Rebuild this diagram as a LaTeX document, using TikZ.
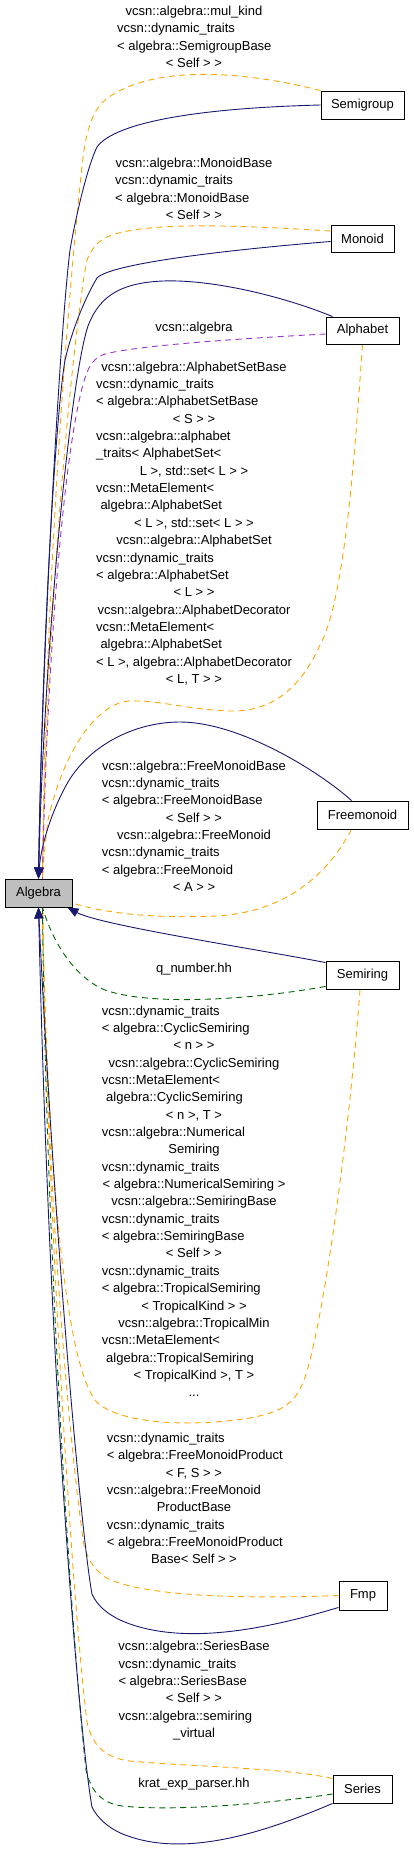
\documentclass[tikz,border=0pt]{standalone}
\usepackage{fontspec}
\setmainfont{Liberation Sans}
\usetikzlibrary{arrows.meta}
\definecolor{navyc}{HTML}{191970}
\definecolor{orangec}{HTML}{FFA500}
\definecolor{purplec}{HTML}{9A32CD}
\definecolor{greenc}{HTML}{006400}
\definecolor{grayfill}{HTML}{BFBFBF}
\newcounter{lc}
\newcommand\lf{\fontsize{13pt}{15pt}\selectfont}
\newcommand\blk[1]{\xdef\cury{#1}}
\newcommand\LabC[1]{\stepcounter{lc}\node[lbl] (t\arabic{lc}) at (194,\cury) {#1};\pgfmathsetmacro\tmpy{\cury+17.35}\xdef\cury{\tmpy}}
\newcommand\LabL[2]{\stepcounter{lc}\node[lbl,anchor=west] (t\arabic{lc}) at (#1,\cury) {#2};\pgfmathsetmacro\tmpy{\cury+17.35}\xdef\cury{\tmpy}}
\tikzset{
  lbl/.style={font=\lf, inner sep=0pt, text height=9.5pt, text depth=2.8pt},
  box/.style={draw=black, fill=white, font=\lf, inner sep=0pt, minimum height=28pt, line width=0.9pt},
  nv/.style={draw=navyc, line width=0.9pt, -{Triangle[length=11pt,width=9pt]}, fill=none},
  dsh/.style={line width=0.9pt, dash pattern=on 6pt off 4.5pt},
  og/.style={dsh, draw=orangec},
  pp/.style={dsh, draw=purplec},
  gr/.style={dsh, draw=greenc},
}
\begin{document}
\begin{tikzpicture}[x=1pt,y=-1pt]
\useasboundingbox (0,0) rectangle (413,1851);
% nodes (placed first so anchors exist; redrawn on top later)
\node[box, minimum width=83pt] (semigroup) at (362.5,105) {Semigroup};
\node[box, minimum width=63pt, minimum height=27pt] (monoid) at (362.5,238.5) {Monoid};
\node[box, minimum width=73pt, minimum height=27pt] (alphabet) at (362.5,330.5) {Alphabet};
\node[box, minimum width=91pt] (freemonoid) at (362.5,815) {Freemonoid};
\node[box, minimum width=73pt] (semiring) at (362.5,975) {Semiring};
\node[box, minimum width=48pt, minimum height=29pt] (fmp) at (363,1595.5) {Fmp};
\node[box, minimum width=59pt] (series) at (362.5,1789) {Series};
\node[box, fill=grayfill, minimum width=67pt] (algebra) at (38.5,893) {Algebra};

% orange dashed
\draw[og] (semigroup.north west) .. controls (240,70) and (150,65) .. (105,100) .. controls (95,108) and (88,125) .. (84,150) .. controls (75,220) and (45,550) .. ([xshift=4pt]algebra.north);
\draw[og] ([yshift=7.5pt]monoid.west) .. controls (250,226) and (140,220) .. (105,238) .. controls (97,242) and (91,250) .. (87,260) .. controls (75,320) and (46,600) .. ([xshift=4pt]algebra.north);
\draw[og] (alphabet.south) .. controls (355,450) and (345,600) .. (320,645) .. controls (300,690) and (270,712) .. (230,711) .. controls (190,710) and (160,700) .. (130,701) .. controls (100,702) and (65,745) .. (48,820) .. controls (45,845) and (43,865) .. ([xshift=4pt]algebra.north);
\draw[og] ([xshift=-11pt]freemonoid.south) .. controls (330,870) and (290,912) .. (216,916) .. controls (150,919) and (100,912) .. ([yshift=-10pt]algebra.east);
\draw[og] ([xshift=-2.5pt]semiring.south) .. controls (352,1100) and (330,1280) .. (310,1360) .. controls (300,1400) and (290,1410) .. (250,1418) .. controls (200,1426) and (130,1426) .. (100,1405) .. controls (60,1375) and (46,1100) .. ([xshift=4pt]algebra.south);
\draw[og] (fmp.west) .. controls (250,1599) and (140,1597) .. (105,1577) .. controls (95,1570) and (88,1560) .. (84,1546) .. controls (70,1450) and (47,1200) .. ([xshift=4pt]algebra.south);
\draw[og] ([yshift=-4pt]series.north west) .. controls (290,1768) and (180,1766) .. (130,1761) .. controls (105,1758) and (92,1745) .. (87,1722) .. controls (72,1600) and (47,1200) .. ([xshift=4pt]algebra.south);
% purple dashed
\draw[pp] ([yshift=-3.5pt]alphabet.west) .. controls (250,338) and (140,345) .. (105,354) .. controls (95,357) and (89,365) .. (85,378) .. controls (65,440) and (47,650) .. ([xshift=4pt]algebra.north);
% green dashed
\draw[gr] ([yshift=3pt]semiring.south west) .. controls (250,1000) and (150,1006) .. (105,990) .. controls (80,980) and (55,950) .. ([xshift=4pt]algebra.south);
\draw[gr] ([yshift=-5pt]series.west) .. controls (280,1802) and (180,1812) .. (122,1806) .. controls (102,1803) and (91,1792) .. (86,1770) .. controls (68,1600) and (45,1200) .. ([xshift=4pt]algebra.south);
% navy solid
\draw[nv] (semigroup.west) .. controls (200,108) and (115,122) .. (97,147) .. controls (88,165) and (76,215) .. (70,250) .. controls (60,330) and (42,650) .. (algebra.north);
\draw[nv] ([yshift=-3pt]monoid.west) .. controls (250,248) and (112,262) .. (97,278) .. controls (85,298) and (72,330) .. (65,360) .. controls (55,420) and (42,650) .. (algebra.north);
\draw[nv] ([xshift=7pt]alphabet.north west) .. controls (280,295) and (200,276) .. (150,282) .. controls (115,286) and (98,300) .. (88,326) .. controls (70,380) and (44,650) .. (algebra.north);
\draw[nv] ([xshift=-11pt]freemonoid.north) .. controls (320,772) and (240,722) .. (180,722) .. controls (135,722) and (90,745) .. (68,782) .. controls (52,810) and (41,845) .. (algebra.north);
\draw[nv] ([yshift=-2pt]semiring.north west) .. controls (250,948) and (100,925) .. ([xshift=-5pt]algebra.south east);
\draw[nv] ([yshift=3pt]fmp.south west) .. controls (270,1628) and (190,1645) .. (130,1624) .. controls (110,1617) and (97,1606) .. (92,1594) .. controls (82,1540) and (55,1250) .. (algebra.south);
\draw[nv] (series.south west) .. controls (270,1830) and (190,1858) .. (128,1836) .. controls (110,1830) and (97,1818) .. (92,1807) .. controls (80,1740) and (50,1400) .. (algebra.south);

% redraw nodes on top
\node[box, minimum width=83pt] at (semigroup.center) {Semigroup};
\node[box, minimum width=63pt, minimum height=27pt] at (monoid.center) {Monoid};
\node[box, minimum width=73pt, minimum height=27pt] at (alphabet.center) {Alphabet};
\node[box, minimum width=91pt] at (freemonoid.center) {Freemonoid};
\node[box, minimum width=73pt] at (semiring.center) {Semiring};
\node[box, minimum width=48pt, minimum height=29pt] at (fmp.center) {Fmp};
\node[box, minimum width=59pt] at (series.center) {Series};
\node[box, fill=grayfill, minimum width=67pt] at (algebra.center) {Algebra};

% labels
\blk{12.3}
\LabC{vcsn::algebra::mul\_kind}
\LabL{117}{vcsn::dynamic\_traits}
\LabL{117}{< algebra::SemigroupBase}
\LabC{< Self > >}

\blk{164.3}
\LabC{vcsn::algebra::MonoidBase}
\LabL{115}{vcsn::dynamic\_traits}
\LabL{115}{< algebra::MonoidBase}
\LabC{< Self > >}

\blk{327.7}
\LabC{vcsn::algebra}

\blk{367.8}
\LabC{vcsn::algebra::AlphabetSetBase}
\LabL{96}{vcsn::dynamic\_traits}
\LabL{96}{< algebra::AlphabetSetBase}
\LabC{< S > >}
\LabL{96}{vcsn::algebra::alphabet}
\LabL{96}{\_traits< AlphabetSet<}
\LabC{L >, std::set< L > >}
\LabL{96}{vcsn::MetaElement<}
\LabL{100.3}{algebra::AlphabetSet}
\LabC{< L >, std::set< L > >}
\LabC{vcsn::algebra::AlphabetSet}
\LabL{96}{vcsn::dynamic\_traits}
\LabL{96}{< algebra::AlphabetSet}
\LabC{< L > >}
\LabC{vcsn::algebra::AlphabetDecorator}
\LabL{96}{vcsn::MetaElement<}
\LabL{100.3}{algebra::AlphabetSet}
\LabC{< L >, algebra::AlphabetDecorator}
\LabC{< L, T > >}

\blk{766.7}
\LabC{vcsn::algebra::FreeMonoidBase}
\LabL{101.7}{vcsn::dynamic\_traits}
\LabL{101.7}{< algebra::FreeMonoidBase}
\LabC{< Self > >}
\LabC{vcsn::algebra::FreeMonoid}
\LabL{101.7}{vcsn::dynamic\_traits}
\LabL{101.7}{< algebra::FreeMonoid}
\LabC{< A > >}

\blk{969}
\LabC{q\_number.hh}

\blk{1011.7}
\LabL{101.7}{vcsn::dynamic\_traits}
\LabL{101.7}{< algebra::CyclicSemiring}
\LabC{< n > >}
\LabC{vcsn::algebra::CyclicSemiring}
\LabL{101.7}{vcsn::MetaElement<}
\LabL{106}{algebra::CyclicSemiring}
\LabC{< n >, T >}
\LabL{101.7}{vcsn::algebra::Numerical}
\LabC{Semiring}
\LabL{101.7}{vcsn::dynamic\_traits}
\LabC{< algebra::NumericalSemiring >}
\LabC{vcsn::algebra::SemiringBase}
\LabL{101.7}{vcsn::dynamic\_traits}
\LabL{101.7}{< algebra::SemiringBase}
\LabC{< Self > >}
\LabL{101.7}{vcsn::dynamic\_traits}
\LabL{101.7}{< algebra::TropicalSemiring}
\LabC{< TropicalKind > >}
\LabC{vcsn::algebra::TropicalMin}
\LabL{101.7}{vcsn::MetaElement<}
\LabL{106}{algebra::TropicalSemiring}
\LabC{< TropicalKind >, T >}
\LabC{...}

\blk{1439}
\LabL{106.7}{vcsn::dynamic\_traits}
\LabL{106.7}{< algebra::FreeMonoidProduct}
\LabC{< F, S > >}
\LabL{106.7}{vcsn::algebra::FreeMonoid}
\LabC{ProductBase}
\LabL{106.7}{vcsn::dynamic\_traits}
\LabL{106.7}{< algebra::FreeMonoidProduct}
\LabC{Base< Self > >}

\blk{1647.3}
\LabC{vcsn::algebra::SeriesBase}
\LabL{118.3}{vcsn::dynamic\_traits}
\LabL{118.3}{< algebra::SeriesBase}
\LabC{< Self > >}
\LabL{118.3}{vcsn::algebra::semiring}
\LabC{\_virtual}

\blk{1784}
\LabC{krat\_exp\_parser.hh}
\end{tikzpicture}
\end{document}
